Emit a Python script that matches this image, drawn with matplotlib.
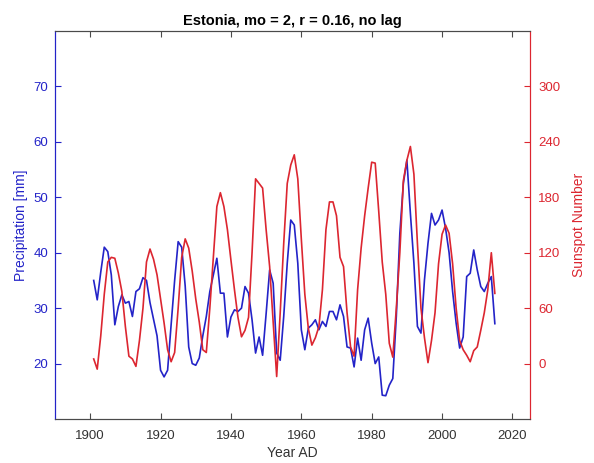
import numpy as np
import matplotlib
matplotlib.use('Agg')
import matplotlib.pyplot as plt

plt.rcParams['font.family'] = ['Liberation Sans', 'DejaVu Sans']

years = np.arange(1901, 2016)

# February precipitation, Estonia [mm], one row per decade (1901-1910, ...)
precip = [35.0, 31.5, 36.5, 41.0, 40.2, 36.0, 27.0, 30.3, 32.4, 30.9,
          31.2, 28.5, 33.0, 33.5, 35.5, 35.0, 31.0, 28.0, 25.0, 18.8,
          17.6, 18.8, 27.0, 35.0, 42.0, 41.0, 34.0, 23.0, 20.0, 19.7,
          21.0, 25.0, 28.5, 33.0, 36.0, 39.0, 32.7, 32.7, 24.8, 28.4,
          29.7, 29.4, 30.0, 33.9, 32.7, 27.9, 21.9, 24.8, 21.5, 29.0,
          36.9, 34.5, 21.9, 20.6, 28.5, 38.1, 45.9, 45.0, 38.1, 26.1,
          22.5, 26.4, 27.0, 27.9, 26.1, 27.6, 26.7, 29.4, 29.4, 27.9,
          30.6, 28.5, 23.0, 22.8, 19.4, 24.6, 20.6, 26.1, 28.2, 23.7,
          20.0, 21.2, 14.3, 14.2, 16.1, 17.3, 28.5, 43.5, 52.5, 56.7,
          47.1, 38.1, 26.7, 25.5, 35.1, 41.7, 47.1, 45.0, 45.9, 47.7,
          44.4, 40.0, 33.0, 27.3, 22.8, 24.8, 35.7, 36.3, 40.5, 36.9,
          33.9, 33.0, 34.5, 35.7, 27.2]

# sunspot number, same years
sunspots = [5, -6, 30, 75, 110, 115, 114, 98, 78, 40,
            8, 5, -3, 25, 60, 110, 124, 113, 96, 70,
            44, 15, 2, 12, 60, 115, 135, 125, 100, 70,
            45, 15, 12, 60, 115, 170, 185, 170, 145, 112,
            80, 50, 29, 36, 50, 120, 200, 195, 190, 145,
            105, 45, -14, 55, 130, 195, 215, 226, 200, 135,
            75, 38, 20, 28, 40, 80, 145, 175, 175, 160,
            115, 105, 55, 18, 8, 80, 125, 160, 190, 218,
            217, 165, 110, 75, 22, 7, 60, 120, 198, 220,
            235, 205, 130, 60, 28, 1, 25, 55, 108, 140,
            150, 141, 108, 60, 25, 15, 9, 2, 14, 18,
            36, 55, 80, 120, 76]

xticks = [1900, 1920, 1940, 1960, 1980, 2000, 2020]
lticks = [20, 30, 40, 50, 60, 70]
rticks = [0, 60, 120, 180, 240, 300]

blue = '#2323c8'
red = '#dc2630'
grey = '#4a4a4a'

fig = plt.figure(figsize=(5.94, 4.63), dpi=100)
ax = fig.add_axes([0.0926, 0.095, 0.7997, 0.838])
ax.plot(years, precip, color=blue, lw=1.2)
ax.set_xlim(1890, 2025)
ax.set_ylim(10, 80)
ax.set_xticks(xticks)
ax.set_yticks(lticks)
ax.set_xlabel('Year AD', fontsize=10, color='#333333', labelpad=3)
ax.set_ylabel('Precipitation [mm]', fontsize=10, color=blue, labelpad=4)
ax.tick_params(axis='x', direction='in', top=True, length=4, labelsize=9.5,
               colors=grey, labelcolor='#333333', pad=8)
ax.tick_params(axis='y', direction='in', length=4, labelsize=9.5,
               colors=blue, pad=5)

ax2 = ax.twinx()
ax2.plot(years, sunspots, color=red, lw=1.2)
ax2.set_ylim(-60, 360)
ax2.set_yticks(rticks)
ax2.set_ylabel('Sunspot Number', fontsize=10, color=red, labelpad=8)
ax2.tick_params(axis='y', direction='in', length=4, labelsize=9.5,
                colors=red, pad=6)

for a in (ax, ax2):
    a.spines['top'].set_color(grey)
    a.spines['bottom'].set_color(grey)
    a.spines['left'].set_color(blue)
    a.spines['right'].set_color(red)
    for s in a.spines.values():
        s.set_linewidth(0.8)

ax.set_title('Estonia, mo = 2, r = 0.16, no lag', fontsize=10.5,
             fontweight='bold', pad=4)

fig.savefig('out.png', dpi=100)
